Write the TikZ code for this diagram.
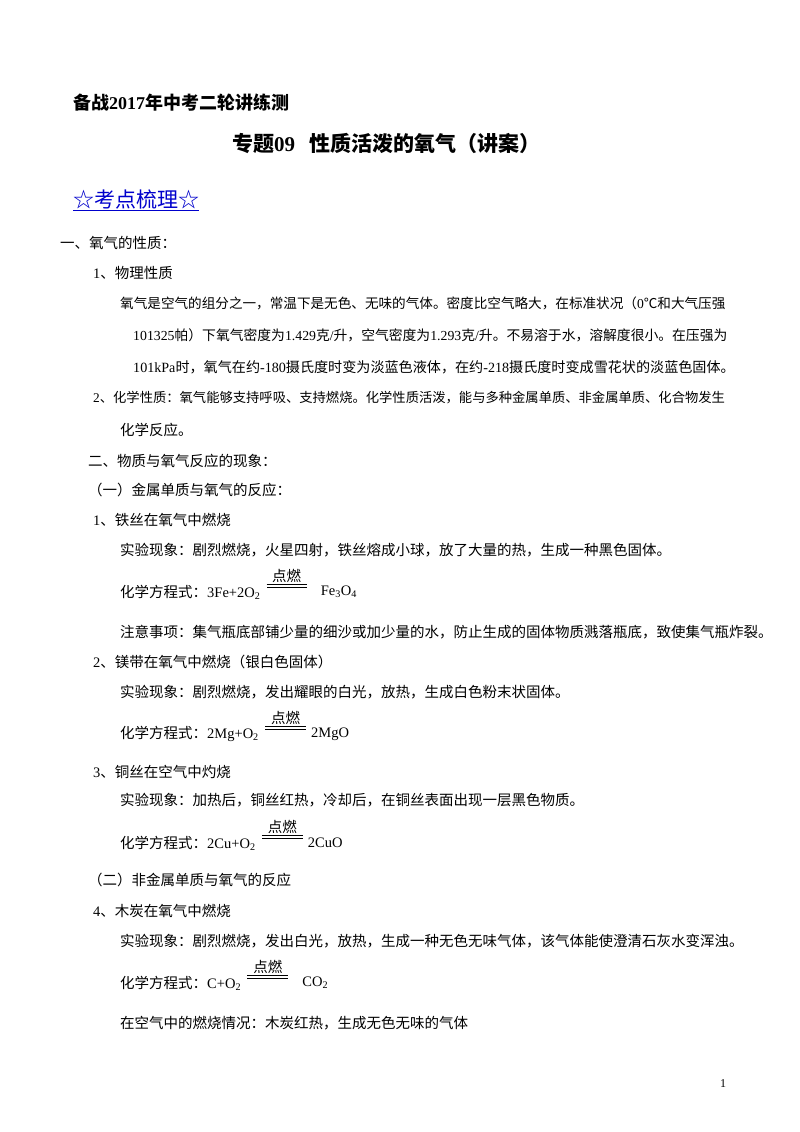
\documentclass[tikz,border=0pt]{standalone}
\usetikzlibrary{calc}
\usepackage{fontspec}
\setmainfont{Liberation Serif}
\newfontfamily\cjkfont{Noto Sans CJK SC}
\XeTeXinterchartokenstate=1
\newXeTeXintercharclass\cjkcls
\newcount\cc
\cc="4E00 \loop\XeTeXcharclass\cc=\cjkcls \advance\cc 1 \ifnum\cc<"A000 \repeat
\cc="3000 \loop\XeTeXcharclass\cc=\cjkcls \advance\cc 1 \ifnum\cc<"3040 \repeat
\cc="FF00 \loop\XeTeXcharclass\cc=\cjkcls \advance\cc 1 \ifnum\cc<"FFF0 \repeat
\XeTeXcharclass"2606=\cjkcls
\XeTeXcharclass"2103=\cjkcls
\XeTeXinterchartoks 0 \cjkcls={\cjkfont}
\XeTeXinterchartoks 4095 \cjkcls={\cjkfont}
\XeTeXinterchartoks \cjkcls 0={\rmfamily}
\XeTeXinterchartoks 4095 0={\rmfamily}
\tikzset{t/.style={anchor=west,inner sep=0pt,font=\fontsize{14.5}{17}\selectfont},
fs/.style={font=\fontsize{#1}{17}\selectfont},
eqline/.style={double distance=2pt,line width=0.6pt}}
\newcommand{\sub}[1]{\textsubscript{#1}}
\begin{document}
\begin{tikzpicture}[x=1pt,y=1pt]
\useasboundingbox[fill=white] (0,0) rectangle (800,-1132);
\node[t,font=\fontsize{18}{20}\selectfont\bfseries] (h) at (73,-103) {备战2017年中考二轮讲练测};
\node[t,font=\fontsize{21}{24}\selectfont\bfseries] (ti) at (232,-143) {专题09\hspace{14pt}性质活泼的氧气（讲案）};
\node[t,font=\fontsize{21}{24}\selectfont,text=blue!80!black] (kd) at (73,-199) {☆考点梳理☆};
\draw[blue!80!black,line width=0.8pt] ([yshift=-1pt]kd.south west) -- ([yshift=-1pt]kd.south east);
\node[t] (l1) at (60,-243) {一、氧气的性质：};
\node[t] (l2) at (93,-273) {1、物理性质};
\node[t,fs=13.6] (l3) at (120,-303) {氧气是空气的组分之一，常温下是无色、无味的气体。密度比空气略大，在标准状况（0℃和大气压强};
\node[t,fs=13.8] (l4) at (133,-335) {101325帕）下氧气密度为1.429克/升，空气密度为1.293克/升。不易溶于水，溶解度很小。在压强为};
\node[t,fs=14.1] (l5) at (133,-367) {101kPa时，氧气在约-180摄氏度时变为淡蓝色液体，在约-218摄氏度时变成雪花状的淡蓝色固体。};
\node[t,fs=13.3] (l6) at (93,-398) {2、化学性质：氧气能够支持呼吸、支持燃烧。化学性质活泼，能与多种金属单质、非金属单质、化合物发生};
\node[t] (l7) at (120,-430) {化学反应。};
\node[t] (l8) at (88,-461) {二、物质与氧气反应的现象：};
\node[t] (l9) at (88,-490) {（一）金属单质与氧气的反应：};
\node[t] (l10) at (93,-520) {1、铁丝在氧气中燃烧};
\node[t] (l11) at (120,-550) {实验现象：剧烈燃烧，火星四射，铁丝熔成小球，放了大量的热，生成一种黑色固体。};
\node[t] (e1) at (120,-592) {化学方程式：3Fe+2O\sub{2}};
\draw[eqline] ($(e1.east)+(6,6)$) coordinate (a1) -- ++(40,0) coordinate (b1);
\node[t,anchor=south] (c1) at ($(a1)!0.5!(b1)+(0,3)$) {点燃};
\node[t] (r1) at ($(b1|-e1.west)+(14,0)$) {Fe\sub{3}O\sub{4}};
\node[t] (l12) at (120,-632) {注意事项：集气瓶底部铺少量的细沙或加少量的水，防止生成的固体物质溅落瓶底，致使集气瓶炸裂。};
\node[t] (l13) at (93,-662) {2、镁带在氧气中燃烧（银白色固体）};
\node[t] (l14) at (120,-692) {实验现象：剧烈燃烧，发出耀眼的白光，放热，生成白色粉末状固体。};
\node[t] (e2) at (120,-734) {化学方程式：2Mg+O\sub{2}};
\draw[eqline] ($(e2.east)+(6,6)$) coordinate (a2) -- ++(41,0) coordinate (b2);
\node[t,anchor=south] (c2) at ($(a2)!0.5!(b2)+(0,3)$) {点燃};
\node[t] (r2) at ($(b2|-e2.west)+(5,0)$) {2MgO};
\node[t] (l15) at (93,-772) {3、铜丝在空气中灼烧};
\node[t] (l16) at (120,-800) {实验现象：加热后，铜丝红热，冷却后，在铜丝表面出现一层黑色物质。};
\node[t] (e3) at (120,-843) {化学方程式：2Cu+O\sub{2}};
\draw[eqline] ($(e3.east)+(6,6)$) coordinate (a3) -- ++(41,0) coordinate (b3);
\node[t,anchor=south] (c3) at ($(a3)!0.5!(b3)+(0,3)$) {点燃};
\node[t] (r3) at ($(b3|-e3.west)+(5,0)$) {2CuO};
\node[t] (l17) at (88,-880) {（二）非金属单质与氧气的反应};
\node[t] (l18) at (93,-911) {4、木炭在氧气中燃烧};
\node[t] (l19) at (120,-941) {实验现象：剧烈燃烧，发出白光，放热，生成一种无色无味气体，该气体能使澄清石灰水变浑浊。};
\node[t] (e4) at (120,-983) {化学方程式：C+O\sub{2}};
\draw[eqline] ($(e4.east)+(6,6)$) coordinate (a4) -- ++(41,0) coordinate (b4);
\node[t,anchor=south] (c4) at ($(a4)!0.5!(b4)+(0,3)$) {点燃};
\node[t] (r4) at ($(b4|-e4.west)+(14,0)$) {CO\sub{2}};
\node[t] (l20) at (120,-1023) {在空气中的燃烧情况：木炭红热，生成无色无味的气体};
\node[t,font=\fontsize{12}{14}\selectfont] (pg) at (720,-1084) {1};
\end{tikzpicture}
\end{document}
